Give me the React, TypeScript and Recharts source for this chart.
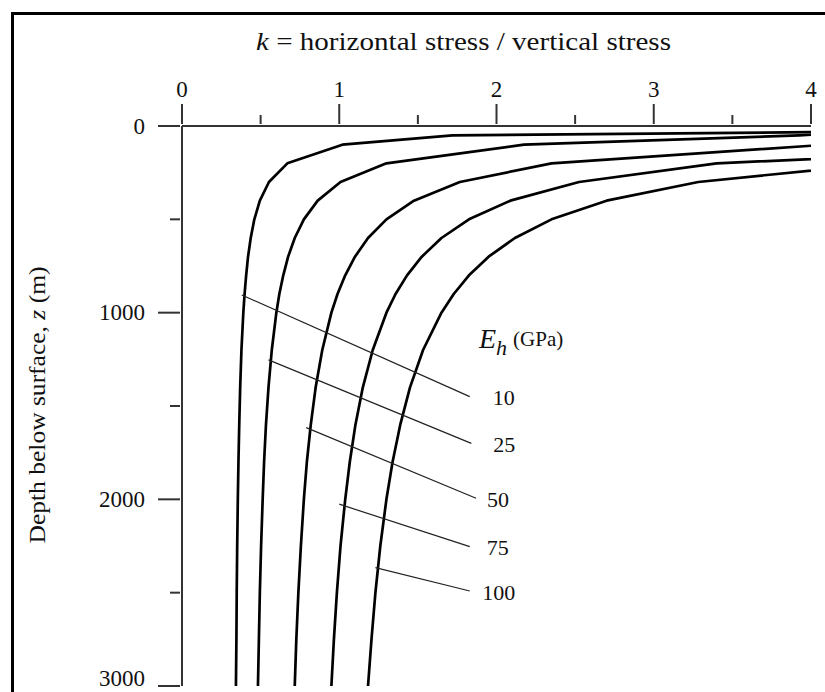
import { LineChart, Line, XAxis, YAxis } from "recharts";

const FONT = '"Liberation Serif", "Times New Roman", serif';
const AXIS = "#333";
const INK = "#111";

// depth below surface (m) where the curves were read
const depths = [50, 100, 200, 300, 400, 500, 600, 700, 800, 900, 1000, 1200, 1400, 1600, 1800, 2000, 2250, 2500, 2750, 3000];

// k, one value per depth above
const kEh10 = [1.72, 1.02, 0.67, 0.553, 0.495, 0.46, 0.437, 0.42, 0.408, 0.398, 0.39, 0.378, 0.37, 0.364, 0.359, 0.355, 0.351, 0.348, 0.346, 0.343];
const kEh25 = [3.925, 2.175, 1.3, 1.008, 0.863, 0.775, 0.717, 0.675, 0.644, 0.619, 0.6, 0.571, 0.55, 0.534, 0.522, 0.513, 0.503, 0.495, 0.489, 0.483];
const kEh50 = [7.6, 4.1, 2.35, 1.767, 1.475, 1.3, 1.183, 1.1, 1.038, 0.989, 0.95, 0.892, 0.85, 0.819, 0.794, 0.775, 0.756, 0.74, 0.727, 0.717];
const kEh75 = [11.28, 6.025, 3.4, 2.525, 2.088, 1.825, 1.65, 1.525, 1.431, 1.358, 1.3, 1.213, 1.15, 1.103, 1.067, 1.038, 1.008, 0.985, 0.966, 0.95];
const kEh100 = [14.95, 7.95, 4.45, 3.283, 2.7, 2.35, 2.117, 1.95, 1.825, 1.728, 1.65, 1.533, 1.45, 1.388, 1.339, 1.3, 1.261, 1.23, 1.205, 1.183];

// the two shallow curves leave the plot at k = 4 at these depths
const edgeK = 4;
const edgeDepthEh10 = 33;
const edgeDepthEh25 = 47;

// leader lines from each curve to its E_h label
const ehLabels = ["10", "25", "50", "75", "100"];
const leaderStartK = [0.38, 0.55, 0.79, 1.0, 1.23];
const leaderStartZ = [905, 1253, 1616, 2026, 2366];
const leaderEndK = [1.83, 1.84, 1.87, 1.83, 1.83];
const leaderEndZ = [1450, 1700, 1994, 2253, 2491];
// horizontal gap (px) from a leader's end to the centre of its label
const labelGap = [34, 33, 22, 28, 29];

const xTicks = [0, 0.5, 1, 1.5, 2, 2.5, 3, 3.5, 4];
const yTicks = [0, 500, 1000, 1500, 2000, 2500, 3000];

const curveKs = [kEh10, kEh25, kEh50, kEh75, kEh100];
const curveTops = [edgeDepthEh10, edgeDepthEh25, null, null, null];

const curves = curveKs.map((ks, c) => {
  const pts = depths.map((z, i) => ({ k: ks[i], z }));
  if (curveTops[c] != null) pts.unshift({ k: edgeK, z: curveTops[c] as number });
  return pts;
});

const leaders = ehLabels.map((name, i) => ({
  name,
  gap: labelGap[i],
  data: [
    { k: leaderStartK[i], z: leaderStartZ[i] },
    { k: leaderEndK[i], z: leaderEndZ[i] },
  ],
}));

function KTick(props: any) {
  const { x, y, payload } = props;
  const major = Number.isInteger(payload.value);
  return (
    <g>
      <line x1={x} x2={x} y1={y} y2={y - (major ? 20 : 9)} stroke={AXIS} strokeWidth={2} />
      {major && (
        <text x={x} y={y - 27} textAnchor="middle" fontSize={23} fontFamily={FONT} fill={INK}>
          {payload.value}
        </text>
      )}
    </g>
  );
}

function DepthTick(props: any) {
  const { x, y, payload } = props;
  const major = payload.value % 1000 === 0;
  // keep the bottom label inside the picture
  const baseline = Math.min(y + 7.5, 686);
  return (
    <g>
      <line x1={x} x2={x - (major ? 22 : 10)} y1={y} y2={y} stroke={AXIS} strokeWidth={2} />
      {major && (
        <text x={x - 35} y={baseline} textAnchor="end" fontSize={23} fontFamily={FONT} fill={INK}>
          {payload.value}
        </text>
      )}
    </g>
  );
}

function leaderLabel(name: string, gap: number) {
  return (p: any) =>
    p.index === 1 ? (
      <text x={p.x + gap} y={p.y} dy="0.4em" textAnchor="middle" fontSize={22} fontFamily={FONT} fill={INK}>
        {name}
      </text>
    ) : null;
}

export default function App() {
  return (
    <div style={{ position: "absolute", left: 0, top: 0, width: 825, height: 692, background: "#fff", overflow: "hidden" }}>
      <LineChart width={825} height={692} margin={{ top: 26, right: 14, bottom: 6, left: 82 }}>
        <XAxis
          type="number"
          dataKey="k"
          orientation="top"
          height={100}
          domain={[0, 4]}
          allowDataOverflow
          ticks={xTicks}
          interval={0}
          tickSize={0}
          tickLine={false}
          tick={<KTick />}
          axisLine={{ stroke: AXIS, strokeWidth: 2 }}
        />
        <YAxis
          type="number"
          width={100}
          domain={[0, 3000]}
          reversed
          allowDataOverflow
          ticks={yTicks}
          interval={0}
          tickSize={0}
          tickLine={false}
          tick={<DepthTick />}
          axisLine={{ stroke: AXIS, strokeWidth: 2 }}
        />
        {curves.map((pts, i) => (
          <Line
            key={ehLabels[i]}
            data={pts}
            dataKey="z"
            type="linear"
            stroke="#000"
            strokeWidth={2.7}
            strokeLinejoin="round"
            dot={false}
            activeDot={false}
            isAnimationActive={false}
          />
        ))}
        {leaders.map((l) => (
          <Line
            key={"leader" + l.name}
            data={l.data}
            dataKey="z"
            type="linear"
            stroke="#222"
            strokeWidth={1.2}
            dot={false}
            activeDot={false}
            label={leaderLabel(l.name, l.gap)}
            isAnimationActive={false}
          />
        ))}
      </LineChart>
      <svg width={825} height={692} style={{ position: "absolute", left: 0, top: 0, pointerEvents: "none" }}>
        <path d="M12.5 692 V13.5 H825" stroke="#000" strokeWidth={3} fill="none" />
        <text x={256} y={50} fontSize={25} fontFamily={FONT} fill={INK} textLength={415} lengthAdjust="spacingAndGlyphs">
          <tspan fontStyle="italic">k</tspan> = horizontal stress / vertical stress
        </text>
        <text
          x={45}
          y={405}
          transform="rotate(-90 45 405)"
          textAnchor="middle"
          fontSize={23}
          fontFamily={FONT}
          fill={INK}
          textLength={277}
          lengthAdjust="spacingAndGlyphs"
        >
          Depth below surface, <tspan fontStyle="italic">z</tspan> (m)
        </text>
        <text x={479} y={348} fontFamily={FONT} fill={INK}>
          <tspan fontSize={28} fontStyle="italic">E</tspan>
          <tspan fontSize={22} fontStyle="italic" dy={7}>h</tspan>
          <tspan fontSize={21} dx={6} dy={-9}>(GPa)</tspan>
        </text>
      </svg>
    </div>
  );
}
